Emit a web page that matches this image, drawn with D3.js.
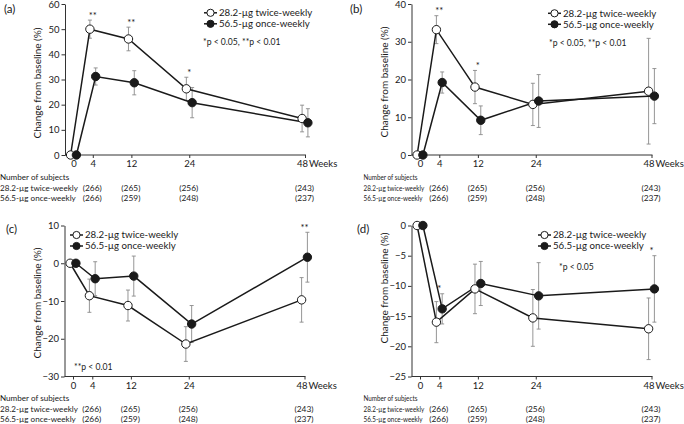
<!DOCTYPE html>
<html>
<head>
<meta charset="utf-8">
<script src="https://cdn.jsdelivr.net/npm/d3@7"></script>
<style>
  body { margin: 0; background: #fff; }
  svg { display: block; font-family: Lato, "Liberation Sans", sans-serif; }
</style>
</head>
<body>
<svg id="chart" width="684" height="424"></svg>
<script>
// weeks of measurement and the weeks the subject counts belong to
const weeks = [0, 4, 12, 24, 48];
const tableWeeks = [4, 12, 24, 48];
const seriesNames = ['28.2-\u00b5g twice-weekly', '56.5-\u00b5g once-weekly'];
const countsTwice = [266, 265, 256, 243];
const countsOnce = [266, 259, 248, 237];

// (a)
const aTwice = [0, 50.0, 46.1, 26.3, 14.5];
const aTwiceErr = [0, 3.6, 4.7, 4.6, 5.3];
const aOnce = [0, 31.2, 28.7, 20.8, 12.8];
const aOnceErr = [0, 3.4, 4.8, 6.0, 5.6];
const aStars = [[4, '**'], [12, '**'], [24, '*']];
const aTicks = [0, 10, 20, 30, 40, 50, 60];

// (b)
const bTwice = [0, 33.2, 18.0, 13.4, 16.9];
const bTwiceErr = [0, 3.7, 4.4, 5.6, 14.0];
const bOnce = [0, 19.2, 9.2, 14.3, 15.6];
const bOnceErr = [0, 2.8, 3.8, 7.0, 7.3];
const bStars = [[4, '**'], [12, '*']];
const bTicks = [0, 10, 20, 30, 40];

// (c)
const cTwice = [0, -8.6, -11.2, -21.4, -9.7];
const cTwiceErr = [0, 4.4, 4.1, 4.6, 5.9];
const cOnce = [0, -4.1, -3.4, -16.1, 1.6];
const cOnceErr = [0, 4.5, 5.3, 4.9, 6.6];
const cStars = [[48, '**']];
const cTicks = [-30, -20, -10, 0, 10];

// (d)
const dTwice = [0, -16.0, -10.5, -15.3, -17.1];
const dTwiceErr = [0, 3.4, 4.1, 4.7, 5.1];
const dOnce = [0, -13.8, -9.6, -11.65, -10.5];
const dOnceErr = [0, 2.5, 3.65, 5.5, 5.5];
const dStars = [[4, '*'], [48, '*']];
const dTicks = [-25, -20, -15, -10, -5, 0];

const svg = d3.select('#chart');
const ink = '#1a1a1a';

const panels = [
  { tag: '(a)', tagX: 4, tagY: 13, left: 65, top: 4, bottom: 155, dom: [0, 60], ticks: aTicks,
    twice: aTwice, twiceErr: aTwiceErr, once: aOnce, onceErr: aOnceErr, stars: aStars,
    titleY: 83, legX: 204, legY: 12.8, pText: '*p < 0.05, **p < 0.01', pX: 203, pY: 42,
    tabLabelX: 0, tabY: 180, squeeze: 1 },
  { tag: '(b)', tagX: 350, tagY: 13, left: 411.5, top: 4, bottom: 155, dom: [0, 40], ticks: bTicks,
    twice: bTwice, twiceErr: bTwiceErr, once: bOnce, onceErr: bOnceErr, stars: bStars,
    titleY: 82, legX: 548, legY: 13.3, pText: '*p < 0.05, **p < 0.01', pX: 549, pY: 42.7,
    tabLabelX: 363.5, tabY: 180, squeeze: 0.78 },
  { tag: '(c)', tagX: 6, tagY: 233, left: 64.5, top: 225.5, bottom: 376.5, dom: [-30, 10], ticks: cTicks,
    twice: cTwice, twiceErr: cTwiceErr, once: cOnce, onceErr: cOnceErr, stars: cStars,
    titleY: 303, legX: 70, legY: 235, pText: '**p < 0.01', pX: 74, pY: 367.3,
    tabLabelX: 0, tabY: 401, squeeze: 1 },
  { tag: '(d)', tagX: 357, tagY: 233, left: 411.5, top: 225.5, bottom: 376.5, dom: [-25, 0], ticks: dTicks,
    twice: dTwice, twiceErr: dTwiceErr, once: dOnce, onceErr: dOnceErr, stars: dStars,
    titleY: 288, legX: 538, legY: 235, pText: '*p < 0.05', pX: 559, pY: 266.7,
    tabLabelX: 363.5, tabY: 401, squeeze: 0.78 }
];

panels.forEach(drawPanel);

function drawPanel(p) {
  const g = svg.append('g');
  const x = d3.scaleLinear().domain([0, 48]).range([p.left + 8.5, p.left + 240]);
  const y = d3.scaleLinear().domain(p.dom).range([p.bottom, p.top]);

  // panel letter
  g.append('text').attr('x', p.tagX).attr('y', p.tagY)
    .attr('font-size', 11.5).attr('fill', ink).text(p.tag);

  // y axis
  const ya = g.append('g').attr('transform', `translate(${p.left},0)`)
    .call(d3.axisLeft(y).tickValues(p.ticks).tickSize(3.5).tickPadding(2).tickSizeOuter(0));
  ya.attr('font-family', null).attr('font-size', 9.5);
  ya.selectAll('path,line').attr('stroke', '#333');
  ya.selectAll('text').attr('fill', ink);

  // x axis, line runs from the y axis to week 48
  const xa = g.append('g').attr('transform', `translate(0,${p.bottom})`)
    .call(d3.axisBottom(x).tickValues(weeks).tickSize(3).tickPadding(2.5).tickSizeOuter(0));
  xa.attr('font-family', null).attr('font-size', 9.5);
  xa.select('.domain').remove();
  xa.append('line').attr('x1', p.left).attr('x2', x(48) + 1).attr('stroke', '#333');
  xa.selectAll('line').attr('stroke', '#333');
  xa.selectAll('text').attr('fill', ink);
  xa.selectAll('.tick text').filter(d => d === 48).attr('dx', -3);
  xa.append('text').attr('x', x(48) + 4).attr('y', 12).attr('fill', ink)
    .attr('text-anchor', 'start').text('Weeks');

  // y title
  g.append('text')
    .attr('transform', `translate(${p.left - 24},${p.titleY}) rotate(-90)`)
    .attr('text-anchor', 'middle').attr('font-size', 10).attr('fill', ink)
    .text('Change from baseline (%)');

  const series = [
    { vals: p.twice, err: p.twiceErr, dx: -0.6, fill: '#fff' },
    { vals: p.once, err: p.onceErr, dx: 0.6, fill: ink }
  ];

  // error bars
  series.forEach(s => {
    const eb = g.append('g').attr('stroke', '#8a8a8a').attr('stroke-width', 0.9);
    weeks.forEach((w, i) => {
      if (!s.err[i]) return;
      const cx = x(w + s.dx);
      const y1 = y(s.vals[i] - s.err[i]), y2 = y(s.vals[i] + s.err[i]);
      eb.append('line').attr('x1', cx).attr('x2', cx).attr('y1', y1).attr('y2', y2);
      eb.append('line').attr('x1', cx - 2).attr('x2', cx + 2).attr('y1', y1).attr('y2', y1);
      eb.append('line').attr('x1', cx - 2).attr('x2', cx + 2).attr('y1', y2).attr('y2', y2);
    });
  });

  // lines
  series.forEach(s => {
    const line = d3.line().x((d, i) => x(weeks[i] + s.dx)).y(d => y(d));
    g.append('path').datum(s.vals).attr('d', line)
      .attr('fill', 'none').attr('stroke', ink).attr('stroke-width', 1.5);
  });

  // points
  series.forEach(s => {
    g.append('g').selectAll('circle').data(s.vals).join('circle')
      .attr('cx', (d, i) => x(weeks[i] + s.dx)).attr('cy', d => y(d)).attr('r', 4.2)
      .attr('fill', s.fill).attr('stroke', ink).attr('stroke-width', 1);
  });

  // significance stars
  p.stars.forEach(([w, t]) => {
    const i = weeks.indexOf(w);
    const top = Math.max(p.twice[i] + p.twiceErr[i], p.once[i] + p.onceErr[i]);
    g.append('text').attr('x', x(w)).attr('y', y(top) - 1.5)
      .attr('text-anchor', 'middle').attr('font-size', 9.5).attr('fill', ink).text(t);
  });

  // legend
  series.forEach((s, k) => {
    const ly = p.legY + k * 11;
    g.append('line').attr('x1', p.legX).attr('x2', p.legX + 13).attr('y1', ly).attr('y2', ly)
      .attr('stroke', ink).attr('stroke-width', 1.5);
    g.append('circle').attr('cx', p.legX + 6.5).attr('cy', ly).attr('r', 3.6)
      .attr('fill', s.fill).attr('stroke', ink);
    g.append('text').attr('x', p.legX + 15).attr('y', ly).attr('dy', '0.35em')
      .attr('font-size', 9.7).attr('fill', ink).text(seriesNames[k]);
  });

  g.append('text').attr('x', p.pX).attr('y', p.pY).attr('dy', '0.35em')
    .attr('font-size', 8.6).attr('fill', ink).text(p.pText);

  // number of subjects table
  const tab = g.append('g').attr('font-size', 8.4).attr('fill', ink);
  const label = (t, ty) => tab.append('text')
    .attr('transform', `translate(${p.tabLabelX},${ty}) scale(${p.squeeze},1)`)
    .attr('font-size', 8.1).text(t);
  label('Number of subjects', p.tabY);
  [countsTwice, countsOnce].forEach((counts, k) => {
    const ty = p.tabY + 10.5 + k * 10.3;
    label(seriesNames[k], ty);
    tab.selectAll(null).data(counts).join('text')
      .attr('x', (d, i) => x(tableWeeks[i]) - 0.5).attr('y', ty)
      .attr('text-anchor', 'middle').text(d => `(${d})`);
  });
}
</script>
</body>
</html>
